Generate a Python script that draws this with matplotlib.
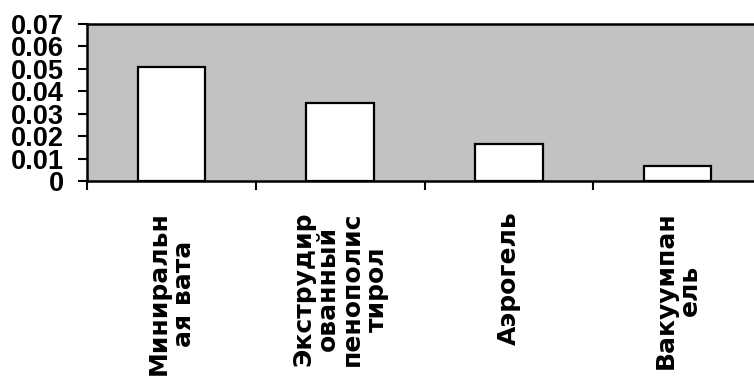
import matplotlib
matplotlib.use('Agg')
import matplotlib.pyplot as plt
import numpy as np

plt.rcParams['font.family'] = ['Liberation Sans', 'DejaVu Sans']
plt.rcParams['font.weight'] = 'bold'

materials = ['Миниральн\nая вата', 'Экструдир\nованный\nпенополис\nтирол',
             'Аэрогель', 'Вакуумпан\nель']
conductivity = [0.051, 0.035, 0.0165, 0.0066]
y_ticks = [0, 0.01, 0.02, 0.03, 0.04, 0.05, 0.06, 0.07]

PLOT_BG = '#c2c2c2'

fig = plt.figure(figsize=(7.54, 3.83), dpi=100, facecolor='white')
ax = fig.add_axes([87/754, 1 - 181/383, 675/754, 157/383])
ax.set_facecolor(PLOT_BG)

x = np.arange(len(materials))
ax.bar(x, conductivity, width=0.4, color='white', edgecolor='black', linewidth=1.6, zorder=3)

ax.set_xlim(-0.5, len(materials) - 0.5)
ax.set_ylim(0, 0.07)

ax.set_yticks(y_ticks)
ax.set_yticklabels([f'{v:g}' for v in y_ticks], fontsize=19.5)
ax.tick_params(axis='y', length=6.5, width=1.5, pad=10)

# labels under the category centres, tick marks on the category borders
ax.set_xticks(x)
ax.set_xticklabels(materials, rotation=90, fontsize=18, linespacing=1.02,
                   multialignment='center', family='DejaVu Sans')
ax.tick_params(axis='x', which='major', length=0, pad=22)
ax.set_xticks(np.arange(len(materials)) - 0.5, minor=True)
ax.tick_params(axis='x', which='minor', length=6.5, width=1.5, direction='out')

for s in ['left', 'bottom', 'top']:
    ax.spines[s].set_linewidth(1.8)
    ax.spines[s].set_color('black')
ax.spines['right'].set_visible(False)

fig.savefig('out.png', dpi=100, facecolor='white')
